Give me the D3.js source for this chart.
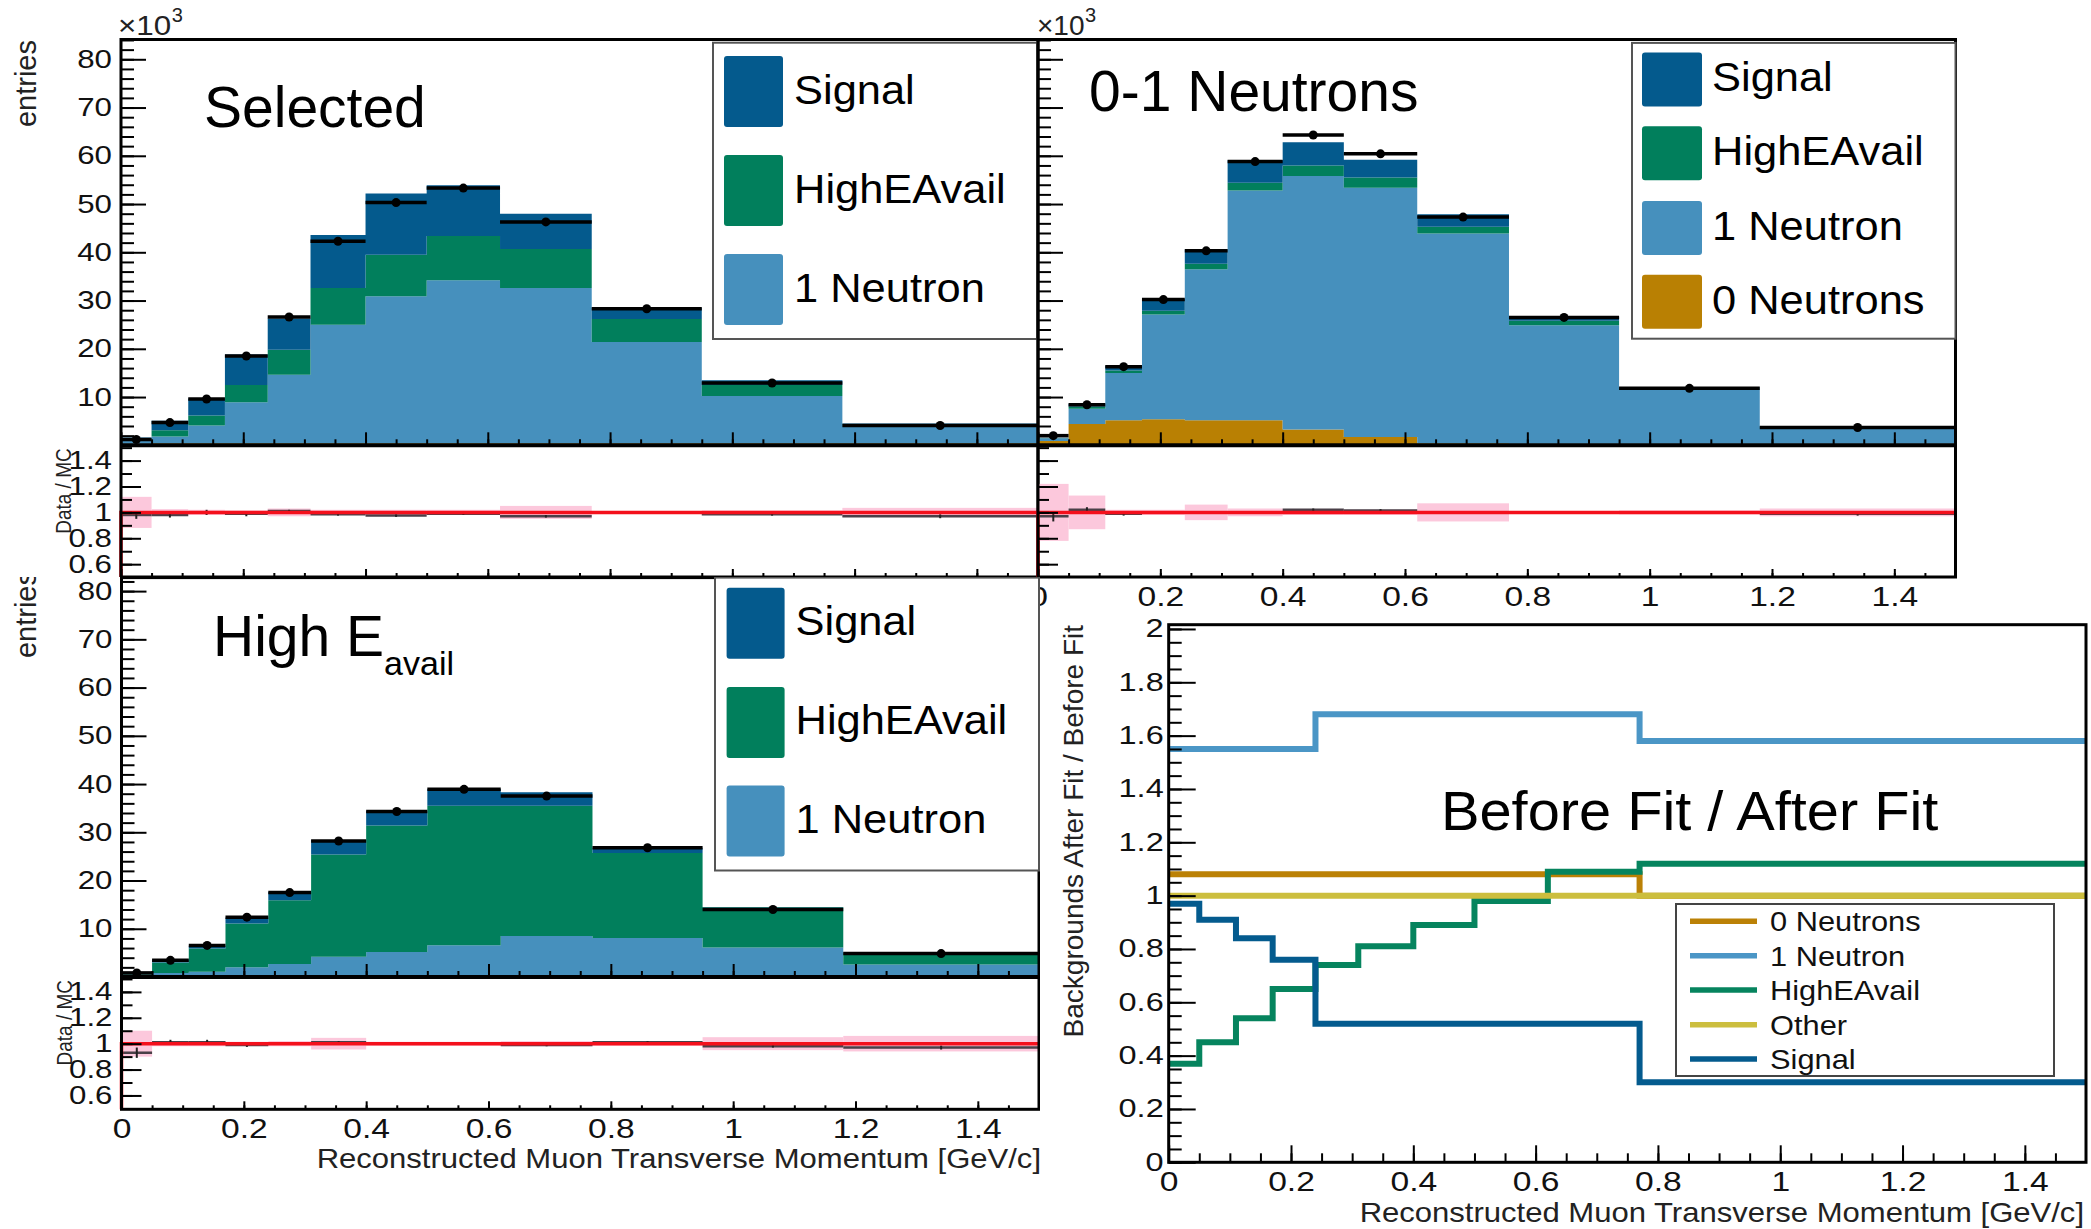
<!DOCTYPE html>
<html>
<head>
<meta charset="utf-8">
<script src="https://cdn.jsdelivr.net/npm/d3@7"></script>
<style>
  body { margin: 0; background: #fff; }
  text { font-family: "Liberation Sans", Arial, sans-serif; }
</style>
</head>
<body>
<script>
var width = 2091;
var height = 1229;

// bin edges of the reconstructed muon pT [GeV/c]
var binEdges = [0, 0.05, 0.11, 0.17, 0.24, 0.31, 0.40, 0.50, 0.62, 0.77, 0.95, 1.18, 1.5];
var xTicks = [0, 0.2, 0.4, 0.6, 0.8, 1, 1.2, 1.4];

// stacked MC (x10^3) and data, "Selected"
var selZeroN  = [0.3, 0.4, 0.4, 0.4, 0.4, 0.4, 0.4, 0.4, 0.4, 0.4, 0.4, 0.4];
var selOneN   = [0.7, 1.4, 3.7, 8.5, 14.2, 24.6, 30.5, 33.8, 32.2, 21.0, 9.8, 3.8];
var selHighE  = [0.2, 1.3, 2.1, 3.6, 5.2, 7.6, 8.6, 9.2, 8.1, 4.8, 2.3, 0.15];
var selSignal = [0.4, 2.0, 3.5, 6.3, 6.5, 11.0, 12.7, 10.5, 7.3, 2.3, 1.0, 0.15];
var selData   = [1.2, 4.7, 9.6, 18.5, 26.6, 42.3, 50.3, 53.3, 46.3, 28.3, 12.9, 4.1];
var selRatio  = [0.98, 0.98, 1.0, 0.99, 1.01, 0.985, 0.975, 0.99, 0.97, 1.0, 0.985, 0.97];
var selRatioErr = [0.03, 0.02, 0.02, 0.02, 0.01, 0.01, 0.01, 0.01, 0.01, 0.01, 0.01, 0.015];
var selBand   = [0.12, 0.025, 0.02, 0.015, 0.03, 0.02, 0.02, 0.02, 0.05, 0.01, 0.015, 0.035];

// "0-1 Neutrons"
var nZeroN  = [0.9, 4.4, 5.2, 5.4, 5.2, 5.2, 3.3, 1.7, 0.4, 0.3, 0.3, 0.3];
var nOneN   = [0.5, 3.2, 9.8, 21.7, 31.3, 47.6, 52.5, 51.7, 43.5, 24.6, 11.5, 3.55];
var nHighE  = [0.05, 0.45, 0.5, 0.8, 1.1, 1.6, 2.2, 2.1, 1.4, 0.9, 0.1, 0.05];
var nSignal = [0.1, 0.55, 1.0, 2.4, 3.0, 4.7, 4.8, 3.7, 2.6, 0.8, 0.1, 0.05];
var nData   = [2.0, 8.4, 16.3, 30.2, 40.3, 58.8, 64.3, 60.4, 47.3, 26.5, 11.8, 3.7];
var nRatio  = [0.97, 1.02, 0.99, 1.0, 1.0, 1.0, 1.02, 1.015, 1.0, 1.0, 1.0, 0.99];
var nRatioErr = [0.04, 0.02, 0.015, 0.01, 0.01, 0.01, 0.01, 0.01, 0.01, 0.01, 0.01, 0.015];
var nBand   = [0.22, 0.13, 0.02, 0.02, 0.06, 0.03, 0.02, 0.02, 0.07, 0.01, 0.015, 0.03];

// "High E_avail"
var hZeroN  = [0.3, 0.3, 0.3, 0.3, 0.3, 0.3, 0.3, 0.3, 0.3, 0.3, 0.3, 0.3];
var hOneN   = [0.2, 0.55, 0.8, 1.7, 2.4, 3.9, 4.9, 6.3, 8.2, 7.8, 5.8, 2.3];
var hHighE  = [0.3, 2.15, 4.8, 9.1, 13.2, 21.2, 26.2, 28.9, 27.0, 17.6, 8.35, 2.4];
var hSignal = [0.1, 0.65, 0.6, 1.25, 1.7, 3.0, 3.0, 3.5, 2.8, 1.1, 0.05, 0.1];
var hData   = [0.85, 3.45, 6.55, 12.4, 17.5, 28.2, 34.3, 38.9, 37.5, 26.8, 14.0, 4.85];
var hRatio  = [0.93, 1.01, 1.01, 0.99, 1.0, 1.01, 1.0, 1.0, 0.99, 1.01, 0.98, 0.97];
var hRatioErr = [0.04, 0.02, 0.02, 0.015, 0.01, 0.01, 0.01, 0.01, 0.01, 0.01, 0.01, 0.015];
var hBand   = [0.1, 0.02, 0.02, 0.015, 0.02, 0.045, 0.015, 0.015, 0.02, 0.015, 0.05, 0.06];

// backgrounds after fit / before fit
var fitZeroN  = [1.08, 1.08, 1.08, 1.08, 1.08, 1.08, 1.08, 1.08, 1.08, 1.0, 1.0, 1.0];
var fitOneN   = [1.55, 1.55, 1.55, 1.55, 1.68, 1.68, 1.68, 1.68, 1.68, 1.58, 1.58, 1.58];
var fitHighE  = [0.37, 0.45, 0.54, 0.65, 0.74, 0.81, 0.89, 0.98, 1.09, 1.12, 1.12, 1.12];
var fitOther  = [1.0, 1.0, 1.0, 1.0, 1.0, 1.0, 1.0, 1.0, 1.0, 1.0, 1.0, 1.0];
var fitSignal = [0.97, 0.91, 0.84, 0.76, 0.52, 0.52, 0.52, 0.52, 0.52, 0.30, 0.30, 0.30];

var stackKeys = ['zeroN', 'oneN', 'highE', 'signal'];
var fillColor = {signal: '#045a8d', highE: '#017f5c', oneN: '#4690bd', zeroN: '#b98003'};
var keyName = {signal: 'Signal', highE: 'HighEAvail', oneN: '1 Neutron', zeroN: '0 Neutrons'};

var svg = d3.select('body').append('svg')
  .attr('width', width).attr('height', height);
svg.append('rect').attr('width', width).attr('height', height).attr('fill', '#fff');

var defs = svg.append('defs');
defs.append('clipPath').attr('id', 'clipC')
  .append('rect').attr('x', 0).attr('y', 577).attr('width', 1040).attr('height', 652);

function fmt(d) { return String(+d.toFixed(1)); }

function label(g, x, y, s, size, opt) {
  opt = opt || {};
  var tr = 'translate(' + x + ',' + y + ')';
  if (opt.rot) tr += ' rotate(' + opt.rot + ')';
  if (opt.sx || opt.sy) tr += ' scale(' + (opt.sx || 1) + ',' + (opt.sy || 1) + ')';
  return g.append('text').attr('transform', tr)
    .attr('font-size', size)
    .attr('text-anchor', opt.anchor || 'start')
    .attr('fill', opt.fill || '#000')
    .text(s);
}

function styleAxis(a, size, sx, pad, side) {
  a.select('.domain').remove();
  a.attr('font-size', size).attr('color', '#000');
  a.selectAll('line').attr('stroke-width', 2);
  a.selectAll('.tick text').attr('fill', '#111').each(function() {
    var t = d3.select(this);
    if (side === 'left') t.attr('x', 0).attr('transform', 'translate(' + (-pad) + ',0) scale(' + sx + ',1)');
    else t.attr('transform', 'scale(' + sx + ',1)');
  });
}

function yAxis(g, scale, x0, majors, minors, bigTick, smallTick, labels, pad, size, sx) {
  var a = g.append('g').attr('transform', 'translate(' + x0 + ',0)')
    .call(d3.axisLeft(scale).tickValues(majors).tickSize(-bigTick).tickPadding(pad)
      .tickFormat(labels ? fmt : function() { return ''; }));
  styleAxis(a, size, sx, pad, 'left');
  var m = g.append('g').attr('transform', 'translate(' + x0 + ',0)')
    .call(d3.axisLeft(scale).tickValues(minors).tickSize(-smallTick).tickFormat(function() { return ''; }));
  styleAxis(m, size, 1, 0, 'left');
}

function xAxis(g, scale, y0, bigTick, smallTick, labels) {
  var a = g.append('g').attr('transform', 'translate(0,' + y0 + ')')
    .call(d3.axisBottom(scale).tickValues(xTicks).tickSize(-bigTick).tickPadding(9)
      .tickFormat(labels ? fmt : function() { return ''; }));
  styleAxis(a, 28, 1.2, 9, 'bottom');
  var m = g.append('g').attr('transform', 'translate(0,' + y0 + ')')
    .call(d3.axisBottom(scale).tickValues(d3.range(0.05, 1.5, 0.05)).tickSize(-smallTick).tickFormat(function() { return ''; }));
  styleAxis(m, 28, 1, 0, 'bottom');
}

function stackLegend(g, lg, keys) {
  g.append('rect').attr('x', lg.box[0]).attr('y', lg.box[1])
    .attr('width', lg.box[2] - lg.box[0]).attr('height', lg.box[3] - lg.box[1])
    .attr('fill', '#fff').attr('stroke', '#555').attr('stroke-width', 2);
  keys.forEach(function(k, i) {
    var top = lg.tops[i];
    g.append('rect').attr('x', lg.sx).attr('y', top).attr('width', lg.sw).attr('height', lg.sh)
      .attr('rx', 3).attr('fill', fillColor[k]);
    label(g, lg.tx, top + lg.sh / 2 + 12, keyName[k], 41, {sx: 1.06});
  });
}

function drawStack(p) {
  var g = svg.append('g');
  if (p.clipId) g.attr('clip-path', 'url(#' + p.clipId + ')');
  if (p.bg) g.append('rect').attr('x', p.bg[0]).attr('y', p.bg[1])
    .attr('width', p.bg[2]).attr('height', p.bg[3]).attr('fill', '#fff');

  var x = d3.scaleLinear().domain([0, 1.5]).range([p.x0, p.x1]);
  var y = d3.scaleLinear().domain([0, p.yMax]).range([p.yBot, p.yTop]);
  var yr = d3.scaleLinear().domain(p.rDom).range([p.rBot, p.yBot]);

  var rows = p.zeroN.map(function(v, i) {
    return {zeroN: v, oneN: p.oneN[i], highE: p.highE[i], signal: p.signal[i]};
  });
  var layers = d3.stack().keys(stackKeys)(rows);
  var area = d3.area().curve(d3.curveStepAfter)
    .x(function(d, i) { return x(binEdges[i]); })
    .y0(function(d) { return y(d[0]); })
    .y1(function(d) { return y(d[1]); });
  layers.forEach(function(layer) {
    var pts = layer.slice();
    pts.push(layer[layer.length - 1]);
    g.append('path').attr('d', area(pts)).attr('fill', fillColor[layer.key]);
  });

  // data
  var bins = p.data.map(function(d, i) {
    return {v: d, lo: binEdges[i], hi: binEdges[i + 1], mid: (binEdges[i] + binEdges[i + 1]) / 2};
  });
  g.selectAll(null).data(bins).enter().append('line')
    .attr('x1', function(d) { return x(d.lo); }).attr('x2', function(d) { return x(d.hi); })
    .attr('y1', function(d) { return y(d.v); }).attr('y2', function(d) { return y(d.v); })
    .attr('stroke', '#000').attr('stroke-width', 3.5);
  g.selectAll(null).data(bins).enter().append('circle')
    .attr('cx', function(d) { return x(d.mid); }).attr('cy', function(d) { return y(d.v); })
    .attr('r', 4.5).attr('fill', '#000');

  // ratio panel
  var rb = p.ratio.map(function(d, i) {
    return {v: d, e: p.ratioErr[i], b: p.band[i], lo: binEdges[i], hi: binEdges[i + 1], mid: (binEdges[i] + binEdges[i + 1]) / 2};
  });
  g.selectAll(null).data(rb).enter().append('rect')
    .attr('x', function(d) { return x(d.lo); }).attr('width', function(d) { return x(d.hi) - x(d.lo); })
    .attr('y', function(d) { return yr(1 + d.b); }).attr('height', function(d) { return yr(1 - d.b) - yr(1 + d.b); })
    .attr('fill', '#fcc8dc');
  g.selectAll(null).data(rb).enter().append('line')
    .attr('x1', function(d) { return x(d.lo); }).attr('x2', function(d) { return x(d.hi); })
    .attr('y1', function(d) { return yr(d.v); }).attr('y2', function(d) { return yr(d.v); })
    .attr('stroke', '#4a4048').attr('stroke-width', 2.5);
  g.selectAll(null).data(rb).enter().append('line')
    .attr('x1', function(d) { return x(d.mid); }).attr('x2', function(d) { return x(d.mid); })
    .attr('y1', function(d) { return yr(d.v - d.e); }).attr('y2', function(d) { return yr(d.v + d.e); })
    .attr('stroke', '#222').attr('stroke-width', 2);
  g.append('path')
    .attr('d', 'M' + x(0) + ',' + yr(p.rDom[0]) + 'L' + x(0) + ',' + yr(1) + 'L' + x(1.5) + ',' + yr(1))
    .attr('fill', 'none').attr('stroke', '#f4101c').attr('stroke-width', 3.5);

  // axes
  yAxis(g, y, p.x0, d3.range(10, 81, 10), d3.range(0, p.yMax, 2), 25, 13, p.yLabels, 9, 25, 1.25);
  yAxis(g, yr, p.x0, [0.6, 0.8, 1, 1.2, 1.4], d3.range(0.6, 1.51, 0.1), 20, 11, p.yLabels, 9, 25, 1.25);
  xAxis(g, x, p.yBot, 13, 6, false);
  xAxis(g, x, p.rBot, 8, 4, p.xLabels);

  // frame
  g.append('rect').attr('x', p.x0).attr('y', p.yTop).attr('width', p.x1 - p.x0).attr('height', p.rBot - p.yTop)
    .attr('fill', 'none').attr('stroke', '#000').attr('stroke-width', 3);
  g.append('line').attr('x1', p.x0).attr('x2', p.x1).attr('y1', p.yBot).attr('y2', p.yBot)
    .attr('stroke', '#000').attr('stroke-width', 4);

  stackLegend(g, p.legend, p.legendKeys);

  // titles
  if (p.yLabels) {
    label(g, 36, p.entriesY, 'entries', 29, {rot: -90, anchor: 'end', fill: '#222'});
    label(g, p.x0 - 50, p.yBot + 3, 'Data / MC', 19, {rot: -90, anchor: 'end', fill: '#222', sy: 1.2});
  }
  if (p.exp) {
    label(g, p.exp[0], p.exp[1], '\u00d710', 28, {sx: p.exp[2], fill: '#222'});
    label(g, p.exp[0] + 48 * p.exp[2], p.exp[1] - 13, '3', 20, {fill: '#222'});
  }
  return {g: g, x: x};
}

// ---------- panel A: Selected ----------
var A = drawStack({
  x0: 121, x1: 1038, yTop: 39.5, yBot: 445.3, yMax: 84.1, rBot: 577, rDom: [0.501, 1.518],
  zeroN: selZeroN, oneN: selOneN, highE: selHighE, signal: selSignal, data: selData,
  ratio: selRatio, ratioErr: selRatioErr, band: selBand,
  yLabels: true, xLabels: false, entriesY: 40, exp: [118, 35, 1.12],
  legend: {box: [713, 42.7, 1037, 339], sx: 724, sw: 59, sh: 71, tops: [56, 155, 254], tx: 794},
  legendKeys: ['signal', 'highE', 'oneN']
});
label(A.g, 204, 127, 'Selected', 57);

// ---------- panel B: 0-1 Neutrons ----------
var B = drawStack({
  x0: 1038, x1: 1955.5, yTop: 39.5, yBot: 445.3, yMax: 84.1, rBot: 577, rDom: [0.501, 1.518],
  zeroN: nZeroN, oneN: nOneN, highE: nHighE, signal: nSignal, data: nData,
  ratio: nRatio, ratioErr: nRatioErr, band: nBand,
  yLabels: false, xLabels: true, exp: [1037, 35, 1.0],
  legend: {box: [1632, 42.9, 1955.5, 338.7], sx: 1642, sw: 60, sh: 54, tops: [52.4, 126.3, 200.9, 274.8], tx: 1712},
  legendKeys: ['signal', 'highE', 'oneN', 'zeroN']
});
label(B.g, 1089, 111, '0-1 Neutrons', 57);

// ---------- panel C: High E_avail ----------
var C = drawStack({
  x0: 121.5, x1: 1039, yTop: 577.6, yBot: 977, yMax: 82.8, rBot: 1109.3, rDom: [0.493, 1.515],
  zeroN: hZeroN, oneN: hOneN, highE: hHighE, signal: hSignal, data: hData,
  ratio: hRatio, ratioErr: hRatioErr, band: hBand,
  yLabels: true, xLabels: true, entriesY: 571, clipId: 'clipC', bg: [0, 577, 1040, 652],
  legend: {box: [715, 577.6, 1039, 870.5], sx: 726.6, sw: 58, sh: 71, tops: [587.7, 686.9, 785.6], tx: 795.5},
  legendKeys: ['signal', 'highE', 'oneN']
});
var ht = label(C.g, 213, 656, 'High E', 57);
ht.append('tspan').attr('font-size', 34).attr('dy', 19).text('avail');
label(C.g, 1041, 1168, 'Reconstructed Muon Transverse Momentum [GeV/c]', 27, {anchor: 'end', sx: 1.15, fill: '#222'});

// ---------- panel D: fit ratios ----------
var gD = svg.append('g');
gD.append('rect').attr('x', 1041).attr('y', 612).attr('width', width - 1041).attr('height', height - 612).attr('fill', '#fff');
var xd = d3.scaleLinear().domain([0, 1.5]).range([1168.7, 2086]);
var yd = d3.scaleLinear().domain([0, 2.016]).range([1162.3, 624.7]);

var fitSeries = [
  {name: '0 Neutrons', vals: fitZeroN, color: '#bb8106'},
  {name: '1 Neutron', vals: fitOneN, color: '#4b96c6'},
  {name: 'HighEAvail', vals: fitHighE, color: '#06845e'},
  {name: 'Other', vals: fitOther, color: '#ccbe3e'},
  {name: 'Signal', vals: fitSignal, color: '#045b8e'}
];
var stepLine = d3.line().curve(d3.curveStepAfter)
  .x(function(d, i) { return xd(binEdges[i]); })
  .y(function(d) { return yd(d); });
fitSeries.forEach(function(s) {
  var pts = s.vals.slice();
  pts.push(s.vals[s.vals.length - 1]);
  gD.append('path').attr('d', stepLine(pts)).attr('fill', 'none')
    .attr('stroke', s.color).attr('stroke-width', 6);
});

yAxis(gD, yd, 1168.7, d3.range(0, 2.01, 0.2), d3.range(0, 2.01, 0.05), 27, 13, true, 5, 25, 1.3);
xAxis(gD, xd, 1162.3, 17, 9, true);
gD.append('rect').attr('x', 1168.7).attr('y', 624.7).attr('width', 2086 - 1168.7).attr('height', 1162.3 - 624.7)
  .attr('fill', 'none').attr('stroke', '#000').attr('stroke-width', 3);

label(gD, 1083, 625, 'Backgrounds After Fit / Before Fit', 28, {rot: -90, anchor: 'end', fill: '#222'});
label(gD, 2084, 1222, 'Reconstructed Muon Transverse Momentum [GeV/c]', 27, {anchor: 'end', sx: 1.15, fill: '#222'});
label(gD, 1441, 830, 'Before Fit / After Fit', 55, {sx: 1.05});

// legend D
gD.append('rect').attr('x', 1676).attr('y', 904).attr('width', 2054 - 1676).attr('height', 1076 - 904)
  .attr('fill', '#fff').attr('stroke', '#444').attr('stroke-width', 2);
var legYs = [921.3, 955.7, 990, 1024.7, 1059];
fitSeries.forEach(function(s, i) {
  gD.append('line').attr('x1', 1690).attr('x2', 1757).attr('y1', legYs[i]).attr('y2', legYs[i])
    .attr('stroke', s.color).attr('stroke-width', 5.5);
  label(gD, 1770, legYs[i] + 10, s.name, 27.5, {sx: 1.12, fill: '#111'});
});
</script>
</body>
</html>
